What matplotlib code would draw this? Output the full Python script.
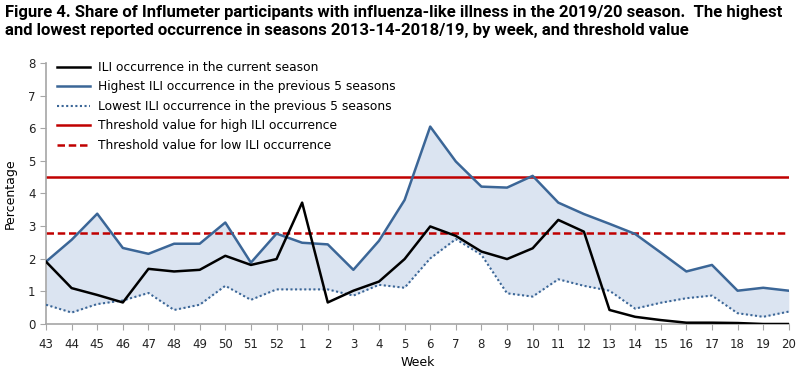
import matplotlib
matplotlib.use("Agg")
import matplotlib.pyplot as plt
import numpy as np

plt.rcParams['font.family'] = ['DejaVu Sans']

weeks = ['43', '44', '45', '46', '47', '48', '49', '50', '51', '52',
         '1', '2', '3', '4', '5', '6', '7', '8', '9', '10',
         '11', '12', '13', '14', '15', '16', '17', '18', '19', '20']

current = [1.91, 1.10, 0.89, 0.66, 1.69, 1.61, 1.66, 2.09, 1.81, 1.99,
           3.72, 0.66, 1.02, 1.30, 1.99, 2.99, 2.70, 2.22, 1.99, 2.32,
           3.19, 2.83, 0.43, 0.22, 0.12, 0.04, 0.04, 0.03, 0.0, 0.0]

highest = [1.91, 2.58, 3.38, 2.33, 2.15, 2.46, 2.46, 3.11, 1.88, 2.77,
           2.49, 2.44, 1.66, 2.55, 3.80, 6.05, 4.98, 4.21, 4.18, 4.54,
           3.72, 3.37, 3.07, 2.76, 2.19, 1.61, 1.81, 1.02, 1.11, 1.02]

lowest = [0.59, 0.35, 0.61, 0.72, 0.95, 0.43, 0.59, 1.17, 0.74, 1.06,
          1.06, 1.06, 0.87, 1.20, 1.11, 2.01, 2.60, 2.12, 0.94, 0.84,
          1.37, 1.17, 1.02, 0.47, 0.65, 0.79, 0.87, 0.33, 0.22, 0.38]

high_threshold = 4.5
low_threshold = 2.8

title = ("Figure 4. Share of Influmeter participants with influenza-like illness in the 2019/20 season.  The highest\n"
         "and lowest reported occurrence in seasons 2013-14-2018/19, by week, and threshold value")

blue = '#3b6697'
red = '#c00000'
x = np.arange(len(weeks))

fig = plt.figure(figsize=(8, 3.77), dpi=100)
ax = fig.add_axes([0.0575, 0.1406, 0.9285, 0.6924])

ax.fill_between(x, lowest, highest, color='#dbe4f1', linewidth=0, zorder=1)
ax.plot(x, current, color='black', linewidth=1.8, label='ILI occurrence in the current season', zorder=4)
ax.plot(x, highest, color=blue, linewidth=1.8, label='Highest ILI occurrence in the previous 5 seasons', zorder=3)
ax.plot(x, lowest, color=blue, linewidth=1.5, linestyle=(0, (1, 1.2)),
        label='Lowest ILI occurrence in the previous 5 seasons', zorder=3)
ax.axhline(high_threshold, color=red, linewidth=1.8, label='Threshold value for high ILI occurrence', zorder=2)
ax.axhline(low_threshold, color=red, linewidth=1.8, linestyle=(0, (3, 1.5)),
           label='Threshold value for low ILI occurrence', zorder=2)

ax.set_xlim(0, len(weeks) - 1)
ax.set_ylim(0, 8)
ax.set_xticks(x)
ax.set_xticklabels(weeks)
ax.set_yticks(range(0, 9))

for side in ['top', 'right']:
    ax.spines[side].set_visible(False)
for side in ['left', 'bottom']:
    ax.spines[side].set_color('#a6a6a6')
    ax.spines[side].set_linewidth(1.2)
ax.tick_params(axis='both', direction='out', length=4, color='#a6a6a6',
               labelsize=8.5, labelcolor='#222222')
ax.tick_params(axis='x', pad=6)

ax.set_xlabel('Week', fontsize=9, labelpad=4)
ax.set_ylabel('Percentage', fontsize=9, labelpad=8)

ax.legend(loc='upper left', bbox_to_anchor=(0.0, 1.05), frameon=False, fontsize=8.8,
          handlelength=2.7, handletextpad=0.65, labelspacing=0.53)

fig.text(0.006, 0.988, title, ha='left', va='top', fontsize=12, fontweight='bold',
         family=['Roboto', 'DejaVu Sans'], linespacing=1.3)

fig.savefig('out.png', dpi=100)
